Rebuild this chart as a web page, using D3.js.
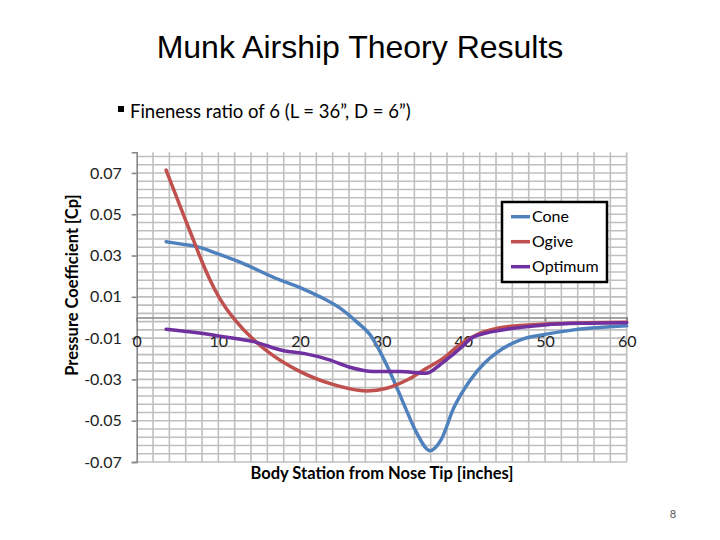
<!DOCTYPE html>
<html>
<head>
<meta charset="utf-8">
<script src="https://cdn.jsdelivr.net/npm/d3@7"></script>
<style>
  body { margin: 0; background: #fff; }
  svg { display: block; }
  text { font-family: Lato, "Open Sans", sans-serif; }
</style>
</head>
<body>
<svg width="720" height="540"></svg>
<script>
// values
const coneX = [3.6, 5.7, 7.4, 9.8, 13.0, 17.0, 20.0, 22.4, 24.9, 26.9, 28.6, 29.8, 30.8, 31.8, 33.1, 34.3, 35.9, 37.3, 38.8, 40.9, 42.6, 44.1, 47.0, 50.0, 53.5, 60];
const coneY = [0.0367, 0.0354, 0.0343, 0.031, 0.0262, 0.019, 0.0145, 0.0101, 0.0045, -0.002, -0.0085, -0.0166, -0.0246, -0.0335, -0.0456, -0.056, -0.0645, -0.059, -0.044, -0.030, -0.022, -0.017, -0.0108, -0.0082, -0.006, -0.004];

const ogiveX = [3.6, 5.3, 6.5, 8.0, 9.0, 10.0, 11.0, 12.0, 14.3, 16.3, 19.6, 23.9, 28.2, 30.6, 33.1, 35.5, 37.5, 39.6, 42.0, 45.3, 50, 55, 60];
const ogiveY = [0.0714, 0.054, 0.042, 0.027, 0.018, 0.0103, 0.0041, -0.001, -0.0107, -0.0173, -0.0254, -0.0323, -0.0356, -0.0343, -0.0303, -0.0246, -0.0198, -0.013, -0.0077, -0.0045, -0.0032, -0.0026, -0.0023];

const optimumX = [3.6, 7.4, 10.6, 14.3, 18.0, 20.6, 23.5, 26.1, 29.0, 32.2, 35.5, 37.1, 38.4, 39.6, 41.2, 45.3, 50, 54.7, 60];
const optimumY = [-0.0057, -0.0074, -0.0093, -0.0117, -0.0161, -0.0175, -0.0204, -0.0241, -0.0262, -0.0262, -0.027, -0.023, -0.019, -0.015, -0.0095, -0.0057, -0.0036, -0.0028, -0.0025];

const seriesNames = ["Cone", "Ogive", "Optimum"];
const seriesColors = ["#4F81BD", "#C0504D", "#7030A0"];
const xTicks = [0, 10, 20, 30, 40, 50, 60];
const yTicks = [-0.07, -0.05, -0.03, -0.01, 0.01, 0.03, 0.05, 0.07];
const yTickLabels = ["-0.07", "-0.05", "-0.03", "-0.01", "0.01", "0.03", "0.05", "0.07"];

const svg = d3.select("svg");

const x = d3.scaleLinear().domain([0, 60]).range([136.7, 626.7]);
const y = d3.scaleLinear().domain([-0.07, 0.08]).range([462, 152.3]);

// titles
svg.append("text")
  .attr("x", 360).attr("y", 58)
  .attr("text-anchor", "middle")
  .style("font-family", "'Liberation Sans', Arial, sans-serif")
  .style("font-size", "32px")
  .text("Munk Airship Theory Results");

svg.append("rect")
  .attr("x", 118).attr("y", 106).attr("width", 6).attr("height", 6)
  .attr("fill", "#000");
svg.append("text")
  .attr("x", 130).attr("y", 118)
  .style("font-size", "18.5px")
  .text("Fineness ratio of 6 (L = 36\u201d, D = 6\u201d)");

// grid
const g = svg.append("g");
const gridX = d3.range(2, 61, 2);
const gridY = d3.range(0, 38).map(function(k) { return -0.07 + k * 0.004; });

g.selectAll("line.vgrid")
  .data(gridX)
  .enter().append("line")
  .attr("class", "vgrid")
  .attr("x1", d => x(d)).attr("x2", d => x(d))
  .attr("y1", y(0.08)).attr("y2", y(-0.07))
  .attr("stroke", "#bfbfbf").attr("stroke-width", 1.6);

g.selectAll("line.hgrid")
  .data(gridY)
  .enter().append("line")
  .attr("class", "hgrid")
  .attr("x1", x(0)).attr("x2", x(60))
  .attr("y1", d => y(d)).attr("y2", d => y(d))
  .attr("stroke", "#bfbfbf").attr("stroke-width", 1.6);

// y axis
const yAxis = d3.axisLeft(y)
  .tickValues(yTicks)
  .tickSize(5)
  .tickPadding(10)
  .tickFormat(function(d, i) { return yTickLabels[i]; });

const yg = svg.append("g")
  .attr("transform", "translate(" + x(0) + ",0)")
  .call(yAxis);
yg.select(".domain").attr("stroke", "#868686").attr("stroke-width", 1.6);
yg.selectAll(".tick line").attr("stroke", "#868686").attr("stroke-width", 1.6);
yg.selectAll(".tick text")
  .style("font-size", "16px")
  .style("font-family", "Lato, sans-serif")
  .attr("fill", "#222");

// x axis crosses at zero
const xAxis = d3.axisBottom(x)
  .tickValues(xTicks)
  .tickSize(4)
  .tickPadding(14)
  .tickFormat(d3.format("d"));

const xg = svg.append("g")
  .attr("transform", "translate(0," + y(0) + ")")
  .call(xAxis);
xg.select(".domain").attr("stroke", "#868686").attr("stroke-width", 1.6);
xg.selectAll(".tick line").attr("stroke", "#868686").attr("stroke-width", 1.6);
xg.selectAll(".tick text")
  .style("font-size", "16px")
  .style("font-family", "Lato, sans-serif")
  .attr("fill", "#222");

// series
const allSeries = [
  coneX.map((v, i) => [v, coneY[i]]),
  ogiveX.map((v, i) => [v, ogiveY[i]]),
  optimumX.map((v, i) => [v, optimumY[i]])
];

const line = d3.line()
  .x(d => x(d[0]))
  .y(d => y(d[1]))
  .curve(d3.curveMonotoneX);

svg.selectAll("path.series")
  .data(allSeries)
  .enter().append("path")
  .attr("class", "series")
  .attr("d", line)
  .attr("fill", "none")
  .attr("stroke", (d, i) => seriesColors[i])
  .attr("stroke-width", 3.5)
  .attr("stroke-linecap", "round")
  .attr("stroke-linejoin", "round");

// axis titles
svg.append("text")
  .attr("transform", "translate(78,285) rotate(-90)")
  .attr("text-anchor", "middle")
  .style("font-size", "16.5px")
  .style("font-weight", "bold")
  .text("Pressure Coefficient [Cp]");

svg.append("text")
  .attr("x", 382).attr("y", 479)
  .attr("text-anchor", "middle")
  .style("font-size", "16.5px")
  .style("font-weight", "bold")
  .text("Body Station from Nose Tip [inches]");

// legend
const legend = svg.append("g");
legend.append("rect")
  .attr("x", 502).attr("y", 202)
  .attr("width", 105).attr("height", 80)
  .attr("fill", "#fff")
  .attr("stroke", "#000").attr("stroke-width", 2.5);

const item = legend.selectAll("g.item")
  .data(seriesNames)
  .enter().append("g")
  .attr("class", "item")
  .attr("transform", (d, i) => "translate(0," + (216.7 + i * 25) + ")");

item.append("line")
  .attr("x1", 511).attr("x2", 530)
  .attr("stroke", (d, i) => seriesColors[i])
  .attr("stroke-width", 3.5);

item.append("text")
  .attr("x", 532).attr("dy", "0.35em")
  .style("font-size", "16px")
  .text(d => d);

// slide number
svg.append("text")
  .attr("x", 673).attr("y", 518)
  .attr("text-anchor", "middle")
  .style("font-size", "11px")
  .attr("fill", "#555")
  .text("8");
</script>
</body>
</html>
